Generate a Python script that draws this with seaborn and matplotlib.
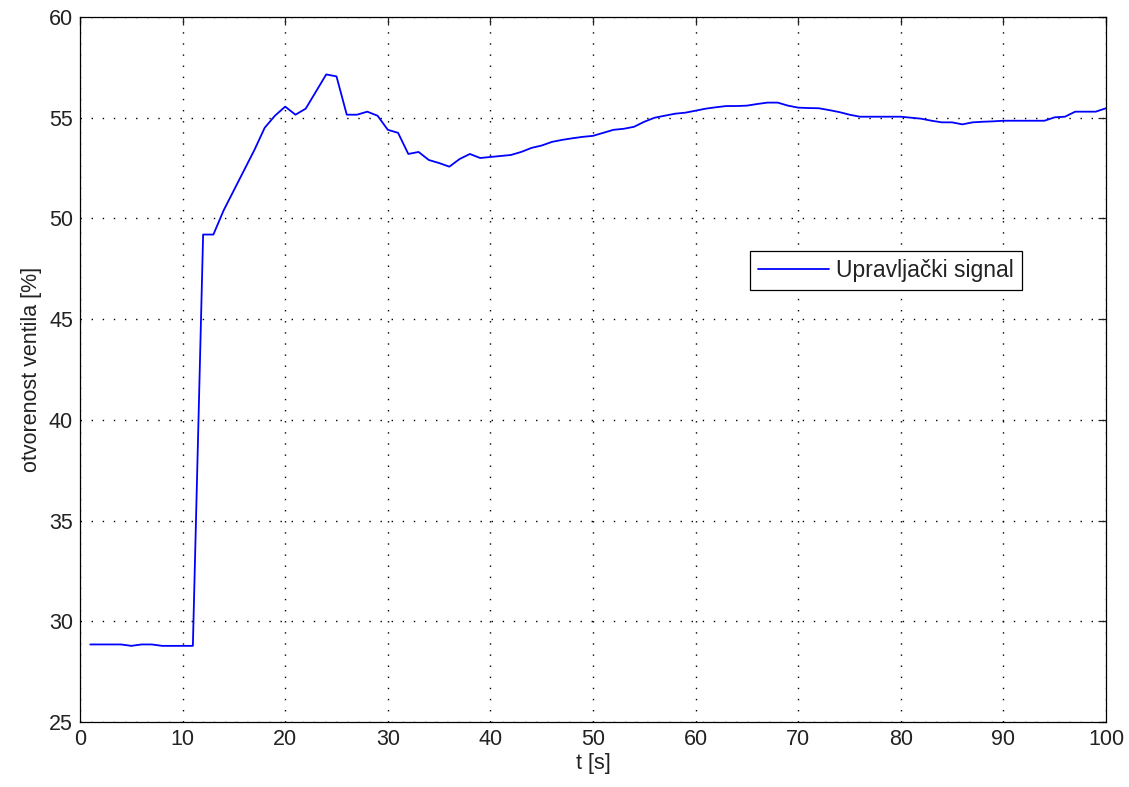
import numpy as np
import pandas as pd
import matplotlib
matplotlib.use("Agg")
import matplotlib.pyplot as plt
import seaborn as sns

# Control signal (valve opening) sampled once per second
t_s = list(range(1, 101))
valve_pct = [
    28.85, 28.85, 28.85, 28.85, 28.78, 28.85, 28.85, 28.78, 28.78, 28.78,
    28.78, 49.20, 49.20, 50.40, 51.40, 52.40, 53.40, 54.50, 55.10, 55.55,
    55.15, 55.45, 56.30, 57.15, 57.05, 55.15, 55.15, 55.30, 55.10, 54.40,
    54.25, 53.20, 53.30, 52.90, 52.75, 52.57, 52.95, 53.20, 53.00, 53.05,
    53.10, 53.15, 53.30, 53.50, 53.62, 53.80, 53.90, 53.98, 54.05, 54.10,
    54.25, 54.40, 54.45, 54.55, 54.80, 55.00, 55.10, 55.20, 55.25, 55.35,
    55.45, 55.52, 55.58, 55.58, 55.60, 55.68, 55.75, 55.75, 55.60, 55.50,
    55.48, 55.47, 55.38, 55.28, 55.15, 55.05, 55.05, 55.05, 55.05, 55.05,
    55.00, 54.95, 54.85, 54.77, 54.77, 54.67, 54.77, 54.80, 54.82, 54.85,
    54.85, 54.85, 54.85, 54.85, 55.02, 55.05, 55.30, 55.30, 55.30, 55.47,
]
series_label = "Upravljački signal"
x_label = "t [s]"
y_label = "otvorenost ventila [%]"
x_ticks = [0, 10, 20, 30, 40, 50, 60, 70, 80, 90, 100]
y_ticks = [25, 30, 35, 40, 45, 50, 55, 60]

sns.set_style("white")
plt.rcParams["font.family"] = ["Liberation Sans", "DejaVu Sans"]

df = pd.DataFrame({"t": t_s, "u": valve_pct})

fig = plt.figure(figsize=(11.29, 7.87), dpi=100)
ax = fig.add_axes([80 / 1129, 1 - 722 / 787, 1026 / 1129, 705 / 787])

sns.lineplot(data=df, x="t", y="u", ax=ax, color="#0000ff", linewidth=1.3,
             label=series_label)

ax.set_xlim(0, 100)
ax.set_ylim(25, 60)
ax.set_xticks(x_ticks)
ax.set_yticks(y_ticks)
ax.grid(True, color="black", linestyle=(0, (1, 7)), linewidth=1.0)
for side in ["left", "right", "top", "bottom"]:
    ax.spines[side].set_visible(True)
    ax.spines[side].set_color("black")
    ax.spines[side].set_linewidth(0.9)
ax.tick_params(direction="in", length=6, width=0.9, top=True, right=True,
               labelsize=15.5, colors="#222222", pad=5)
ax.set_xlabel(x_label, fontsize=15.5, labelpad=2, color="#222222")
ax.set_ylabel(y_label, fontsize=15.5, labelpad=5, color="#222222")

leg = ax.legend(loc="upper left", bbox_to_anchor=(0.653, 0.668), fontsize=16.5,
                frameon=True, fancybox=False, edgecolor="black",
                handlelength=3.1, handletextpad=0.3, borderpad=0.35,
                borderaxespad=0.0, framealpha=1)
leg.get_frame().set_linewidth(0.9)
for txt in leg.get_texts():
    txt.set_color("#222222")

fig.savefig("out.png", dpi=100, facecolor="white")
